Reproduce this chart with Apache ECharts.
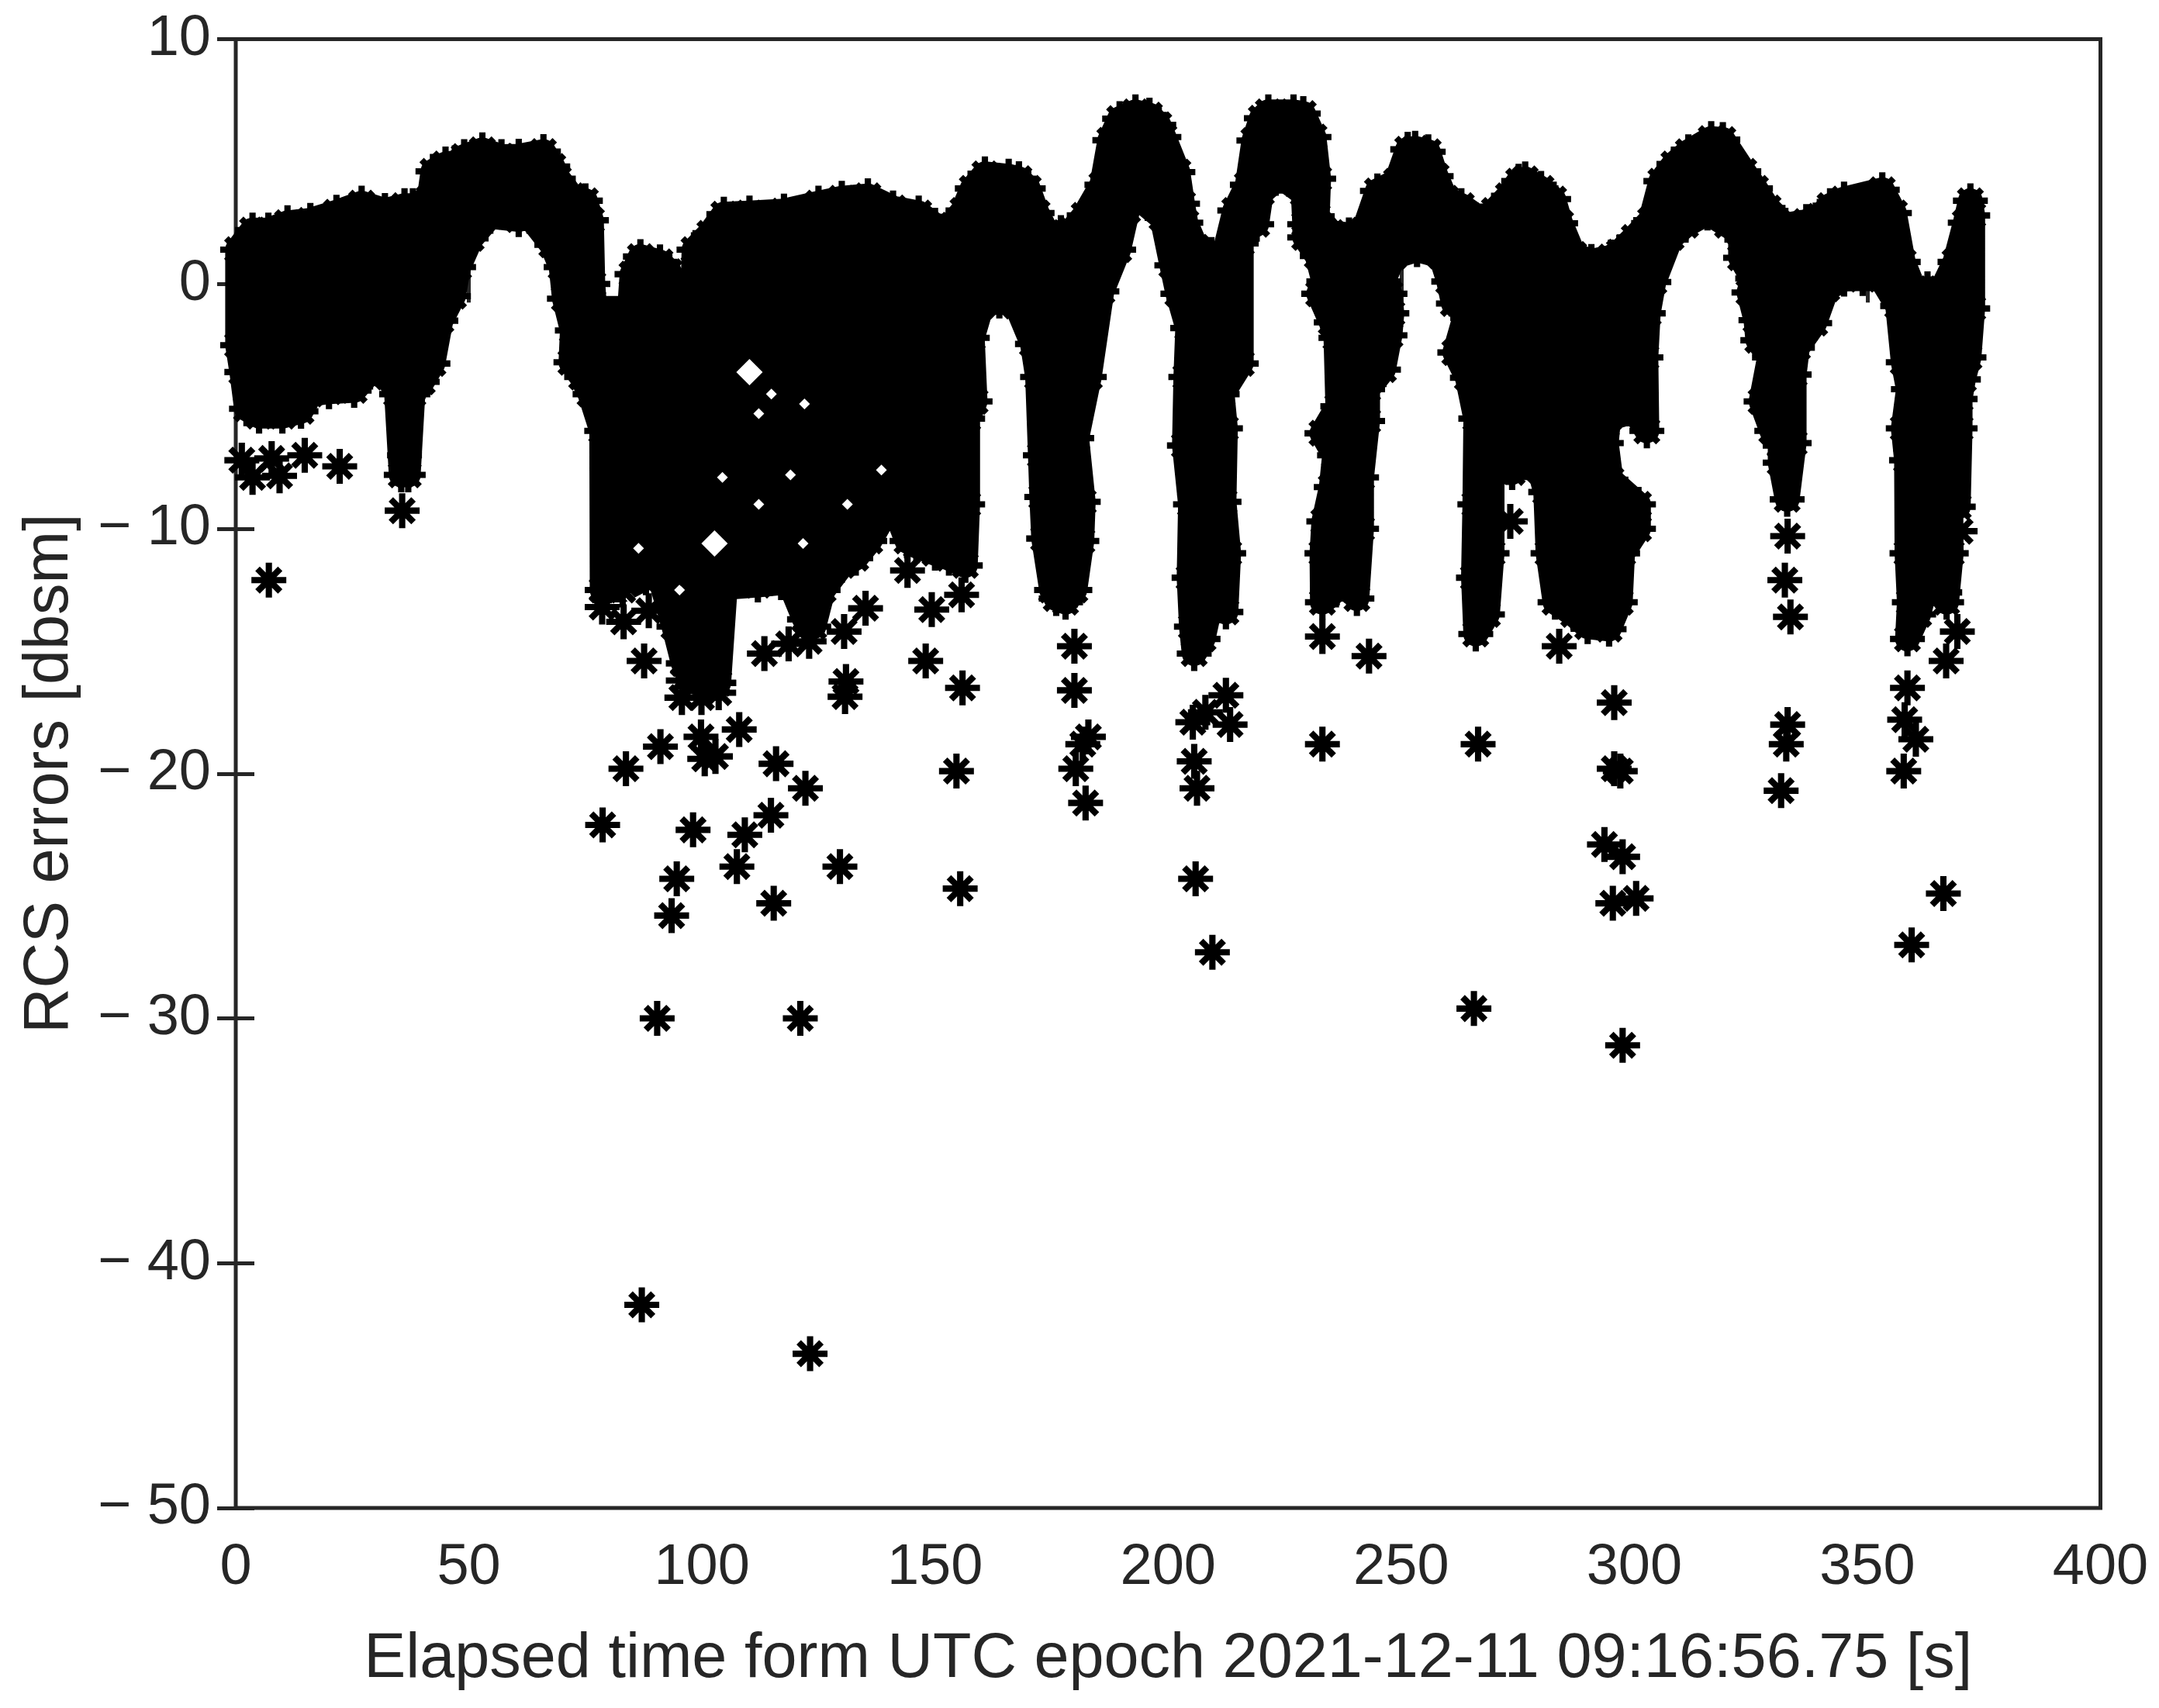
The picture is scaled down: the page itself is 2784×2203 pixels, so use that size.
<!DOCTYPE html>
<html><head><meta charset="utf-8">
<style>html,body{margin:0;padding:0;background:#fff}#c{width:2784px;height:2203px}</style>
<script src="https://cdn.jsdelivr.net/npm/echarts@6/dist/echarts.min.js"></script>
</head><body><div id="c"></div>
<script>
const xTitle = 'Elapsed time form UTC epoch 2021-12-11 09:16:56.75 [s]';
const yTitle = 'RCS errors [dbsm]';

// Upper edge of the merged mass of points: [time, value]
const massTop = [[0.4,1.4],[3.6,2.2],[7,2.2],[11.1,2.5],[16,2.6],[21.6,2.93],[27,3.3],[32,3],[36.2,3.2],[38,3.2],[41.5,3.5],[42.3,4.6],[45,4.9],[47,4.95],[49,5.2],[52.9,5.48],[57,5.2],[60.7,5.22],[66,5.41],[68,4.8],[69.2,4.3],[72,3.6],[75,3.4],[76.3,2.6],[76.6,0],[77,-1],[84.5,-1],[85,0.4],[86.8,1.12],[91,0.9],[93,0.5],[93.3,-1],[98,-1],[98.3,1.4],[101.7,2.07],[104.7,2.85],[110.2,2.9],[117.6,2.98],[125,3.3],[130,3.5],[135.6,3.6],[141,3.1],[146.5,2.9],[150,2.4],[153,2.3],[156,3],[158,3.9],[160.7,4.5],[165.8,4.4],[168,4.3],[170,3.9],[171.9,2.9],[174,2.1],[177,2.1],[179.4,2.2],[182,2.8],[185.8,4.05],[187.5,5.87],[189.6,6.75],[193,7.03],[196,6.9],[198,6.5],[199.1,6],[202.1,4.57],[203.1,3.28],[203.8,2.5],[206,1.5],[209.3,1.2],[212,1.2],[214.3,3],[217,4.05],[218.4,5.86],[220,6.77],[221.5,7.03],[226.9,7.03],[229,6.96],[231.3,6],[232.3,4.3],[232,2.76],[235,2.1],[238.8,2],[242,2.2],[244.9,3.8],[249,4.2],[251.4,5.5],[253,5.54],[255.8,5.4],[257.5,4.4],[259.5,3.5],[262.9,3.2],[267.6,2.57],[270,3],[273,3.6],[275.2,4.2],[276.6,4.29],[280,3.9],[282.7,3.47],[284.2,2.48],[287,1.2],[290.8,0.92],[295,1.1],[296.8,1.3],[300,1.9],[303.5,2.6],[305.7,4.2],[308.5,4.9],[311.6,5.4],[316.5,5.94],[319,5.9],[323.5,4.6],[326,3.9],[328.7,3.1],[332.4,2.4],[336.9,2.55],[339.8,2.76],[342,3.2],[345,3.47],[353.2,3.85],[355.8,2.9],[357.7,0.9],[360,-0.2],[362.9,-0.2],[366,-0.2],[368.8,0.9],[371,2.5],[372.1,3.4],[372.6,2.8]];

// Lower edge of the merged mass of points: [time, value]
const massBottom = [[0.4,-2.5],[1.3,-3.6],[2.3,-5.1],[5,-5.4],[10,-5.4],[14,-5.2],[16,-4.5],[20,-4.4],[25.4,-4.35],[28.8,-3.6],[32.8,-3.8],[34.5,-4.5],[35.5,-7.8],[37,-7.8],[38,-4.5],[40,-4],[42.3,-3.25],[44,-1.5],[46.7,-0.5],[47.8,0.69],[50.5,1.86],[54.6,2.76],[60.7,2.63],[63,2.76],[67.8,1.6],[69.8,0.69],[70.5,-0.6],[72.2,-1.9],[71.9,-3.2],[74.2,-3.8],[76,-4.5],[78.5,-6],[78.6,-12.5],[83,-12.5],[88,-12],[91,-12],[94,-14],[96,-15.5],[99,-16.3],[103.6,-16.3],[105,-12.4],[112,-12.3],[117,-12.2],[119,-12.3],[122,-13.7],[124,-14],[126,-12.5],[130,-11.5],[133,-11.2],[136,-10.5],[139,-9.5],[142,-9.5],[144,-10.5],[146,-10.7],[150,-11],[153,-11.2],[156.5,-11.5],[157,-9],[157,-5.5],[158.6,-4.8],[158,-2.2],[160,-0.9],[163.8,-0.7],[167.5,-0.9],[170.9,-2.45],[172,-3.8],[172.6,-7],[172.9,-8.7],[173.3,-10.4],[175,-12.5],[176,-12.85],[178,-13],[180,-12.5],[181.5,-10.5],[181.8,-8.9],[180.4,-6.3],[183.1,-3.8],[185.8,-0.3],[189.4,1.4],[191.3,3],[193,3.6],[198.7,2.7],[200.8,0.76],[202.1,-0.4],[204.2,-1.8],[203.8,-3.8],[203.5,-6.6],[204.8,-9],[204.5,-12],[205,-14],[205.6,-15.1],[207.5,-14.5],[209,-13.2],[212.4,-13.4],[213,-11],[212,-8.9],[212.3,-5.9],[211.6,-4.5],[215.7,-3.25],[215.7,1.66],[216.4,2.18],[219,2.44],[220,3.73],[224,4.4],[229,3.7],[229.3,2.44],[229.3,1.9],[232,1.14],[233.4,0.1],[232.3,-0.4],[235,-1.57],[236,-2.2],[236.4,-5],[233,-6.1],[235.7,-7],[235,-8.3],[233.4,-9.7],[233,-11],[233.1,-13],[236,-12.5],[238,-12],[240.5,-12.85],[241.5,-10],[241.5,-7.9],[242.8,-5.6],[242.8,-4.3],[246.2,-3.5],[247.6,-2.1],[248,-1.2],[247.6,-0.4],[246.2,0.1],[248.3,1.1],[253.4,1.4],[258.5,1.14],[260.2,0.1],[261.2,-0.8],[263.9,-1.2],[261.5,-2.8],[264.2,-3.83],[266,-5.5],[265.8,-9],[265.5,-12],[266,-14.3],[268.5,-13.5],[269.5,-11],[269.5,-7],[273.8,-7.7],[277,-7.3],[279.7,-7.6],[281,-8.5],[281.5,-11],[283,-13],[287,-13.5],[290,-14],[294.6,-14.1],[297,-13],[297.5,-11],[300.9,-10],[300.9,-9],[295,-8],[294,-6.5],[294.5,-5.5],[300,-5.2],[302.7,-6],[302.5,-3],[303,-1.2],[304.2,0.08],[307.9,1.9],[311,2.4],[315.7,2.9],[320,2.4],[322.8,2.06],[322.8,1.07],[325.4,0.22],[324.6,-0.35],[326.1,-1.48],[326.5,-2.3],[329,-3],[327.2,-4.8],[329.5,-6],[331.3,-6.6],[331.3,-7.3],[332.8,-8.8],[334.3,-6.5],[334.3,-3.7],[335,-2.6],[338.7,-1.6],[341.3,-0.2],[345,0.2],[349,0.22],[353,0.2],[356.5,-0.9],[357.7,-3.2],[358.8,-4.3],[357.7,-5.9],[358.4,-7.2],[358.5,-11],[359,-13],[358.6,-14.5],[361,-13.5],[363,-12],[367,-13],[368,-11],[367.7,-8],[369.5,-9.1],[369.9,-5.9],[369.9,-4.7],[370.6,-3.9],[371.8,-3],[372.6,-1]];

// Separate asterisks that stand clear of the mass: [time, value]
const loosePoints = [[1.3,-7.2],[3.6,-7.9],[7.7,-7.13],[9.4,-7.84],[14.8,-7],[7.1,-12.1],[22.3,-7.45],[35.7,-9.26],[36.2,-6.2],[36.2,-7],
[78.6,-13.2],[83.2,-13.8],[88.6,-13.35],[87.6,-15.4],[96.2,-14],[91.1,-18.9],[83.7,-19.8],[99.8,-18.5],[100.6,-19.4],[102.9,-19.3],[108,-18.2],[95.7,-16.9],[99.9,-16.9],[99,-16.3],[103.6,-16.3],[96,-16.2],[103.6,-16.7],[78.7,-22.1],[98.1,-22.3],[115.9,-19.6],[122.2,-20.6],[114.8,-21.7],[109.2,-22.5],[107.5,-23.8],[94.6,-24.3],[93.5,-25.8],[115.4,-25.3],[129.6,-23.8],[154.6,-19.9],[155.4,-24.7],[148,-15.4],[155.9,-16.5],[113.4,-15.1],[118.6,-14.7],[123,-14.6],[135.1,-13.25],[149.3,-13.3],[130.5,-14.2],[130.9,-16.24],[130.7,-16.86],[144.1,-11.7],[155.7,-12.7],[90.4,-30],[87.1,-41.7],[121.1,-30],[123.2,-43.7],
[179.9,-14.8],[179.9,-16.6],[180.2,-19.8],[182.9,-18.5],[181.7,-18.8],[182.3,-21.2],[205.3,-17.9],[205.6,-19.5],[206.2,-20.6],[205.9,-24.3],[209.5,-27.3],[208,-17.5],[212.4,-16.8],[213.3,-18],[233.1,-18.8],[233.1,-14.4],[243.1,-15.2],[266.5,-18.8],[265.6,-29.6],[283.9,-14.8],[295.7,-17.1],[295.7,-19.8],[297,-19.9],[293.6,-22.9],[297.5,-23.4],[295.4,-25.3],[300.4,-25.1],[297.5,-31.1],[332.9,-18],[332.6,-18.8],[331.5,-20.7],[332.3,-12.1],[332.9,-10.3],[333.5,-13.6],[357.8,-19.9],[358.6,-16.5],[358,-17.8],[360.4,-18.6],[359.5,-27],[366.3,-24.9],[366.9,-15.4],[369.3,-14.2],[369.9,-10.1],[366.6,-12.6],[273.4,-9.7],[106.8,-11.4],[103,-9.3],[97.5,-11.8],[273,-7.5]];

// Small white openings inside the mass: [time, value]
const wideOpenings = [[102.7,-10.6],[110.2,-3.6]];
const narrowOpenings = [[104.4,-7.9],[114.9,-4.5],[122,-4.9],[112.2,-5.3],[119,-7.8],[112.2,-9],[131.2,-9],[86.4,-10.8],[84.4,-12.8],[95.2,-12.5],[121.7,-10.6],[138.5,-7.6]];

const ink = '#262626';
const asterisk = 'path://M0 41H100V59H0Z M41 0H59V100H41Z M23.9 11.1L88.9 76.1L76.1 88.9L11.1 23.9Z M76.1 11.1L88.9 23.9L23.9 88.9L11.1 76.1Z';
const massOutline = massTop.concat(massBottom.slice().reverse());
const tick = {inside:true,length:24,lineStyle:{color:ink,width:5}};
const label = {color:ink,fontFamily:'Liberation Sans',fontSize:74};
const titleFont = {color:ink,fontFamily:'Liberation Sans',fontSize:81};

const chart = echarts.init(document.getElementById('c'),null,{renderer:'canvas'});
chart.setOption({
  animation:false,
  backgroundColor:'#fff',
  grid:{left:304,top:50.5,right:75.5,bottom:258,show:true,borderColor:ink,borderWidth:5,backgroundColor:'#fff',outerBoundsMode:'none',containLabel:false},
  xAxis:[
    {type:'value',min:0,max:400,interval:50,position:'bottom',name:xTitle,nameLocation:'middle',nameGap:155,
     nameTextStyle:titleFont,
     axisLine:{show:false},axisTick:tick,splitLine:{show:false},axisLabel:Object.assign({margin:41},label)},
    {type:'value',min:0,max:400,interval:50,position:'top',axisLine:{show:false},axisTick:tick,splitLine:{show:false},axisLabel:{show:false}}
  ],
  yAxis:[
    {type:'value',min:-50,max:10,interval:10,position:'left',name:yTitle,nameLocation:'middle',nameGap:199,nameRotate:90,
     nameTextStyle:titleFont,
     axisLine:{show:false},axisTick:tick,splitLine:{show:false},
     axisLabel:Object.assign({margin:32,padding:[6,0,0,0],formatter:v=>v<0?'\u2212 '+Math.abs(v):String(v)},label)},
    {type:'value',min:-50,max:10,interval:10,position:'right',axisLine:{show:false},axisTick:tick,splitLine:{show:false},axisLabel:{show:false}}
  ],
  series:[
    {type:'custom',coordinateSystem:'cartesian2d',xAxisIndex:0,yAxisIndex:0,clip:false,z:3,silent:true,
     data:[[0,0]],
     renderItem:(p,api)=>({type:'polygon',
        shape:{points:massOutline.map(d=>api.coord(d))},
        style:{fill:'#000',stroke:'#000',lineWidth:32,lineJoin:'round'}})},
    {type:'scatter',xAxisIndex:0,yAxisIndex:0,clip:false,z:4,silent:true,symbol:'diamond',symbolSize:34,
     itemStyle:{color:'#fff',opacity:1},data:wideOpenings},
    {type:'scatter',xAxisIndex:0,yAxisIndex:0,clip:false,z:4,silent:true,symbol:'diamond',symbolSize:14,
     itemStyle:{color:'#fff',opacity:1},data:narrowOpenings},
    {type:'scatter',xAxisIndex:0,yAxisIndex:0,clip:false,z:5,silent:true,symbol:asterisk,symbolSize:45,
     itemStyle:{color:'#000',opacity:1},data:massTop.concat(massBottom,loosePoints)}
  ]
});
</script></body></html>
